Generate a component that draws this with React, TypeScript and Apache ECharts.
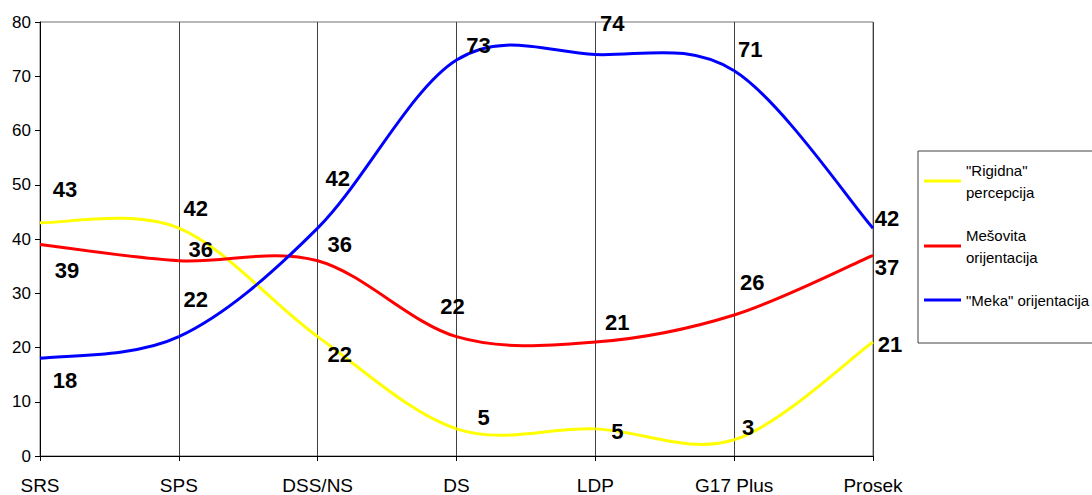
import React, { useEffect, useRef } from 'react';
import * as echarts from 'echarts';

const categories = ['SRS', 'SPS', 'DSS/NS', 'DS', 'LDP', 'G17 Plus', 'Prosek'];
const rigidna = [43, 42, 22, 5, 5, 3, 21];
const mesovita = [39, 36, 36, 22, 21, 26, 37];
const meka = [18, 22, 42, 73, 74, 71, 42];
const seriesNames = ['"Rigidna"\npercepcija', 'Mešovita\norijentacija', '"Meka" orijentacija'];
const seriesColors = ['#FFFF00', '#FF0000', '#0000FF'];

// label offsets (px) relative to each data point
const rigidnaLabelOffsets = [[25, -33], [17, -20], [22, 18], [27, -11], [22, 3], [14, -12], [17, 2]];
const mesovitaLabelOffsets = [[27, 26], [22, -11], [22, -16], [-4, -30], [22, -20], [18, -32], [14, 12]];
const mekaLabelOffsets = [[25, 22], [17, -37], [20, -50], [22, -14], [17, -31], [16, -21], [14, -10]];

const FONT = '"Liberation Sans", Arial, sans-serif';

function makeRenderItem(values: number[], color: string, offsets: number[][]) {
  return (params: any, api: any) => {
    const i = params.dataIndex;
    const n = values.length;
    const pt = (k: number) => {
      const c = Math.max(0, Math.min(n - 1, k));
      return api.coord([c, values[c]]);
    };
    const children: any[] = [];
    if (i < n - 1) {
      const p0 = pt(i - 1);
      const p1 = pt(i);
      const p2 = pt(i + 1);
      const p3 = pt(i + 2);
      const t = 1 / 6;
      children.push({
        type: 'bezierCurve',
        shape: {
          x1: p1[0], y1: p1[1],
          x2: p2[0], y2: p2[1],
          cpx1: p1[0] + (p2[0] - p0[0]) * t,
          cpy1: p1[1] + (p2[1] - p0[1]) * t,
          cpx2: p2[0] - (p3[0] - p1[0]) * t,
          cpy2: p2[1] - (p3[1] - p1[1]) * t,
        },
        style: { stroke: color, lineWidth: 3, fill: null },
        z2: 1,
      });
    }
    const p = pt(i);
    const off = offsets[i];
    children.push({
      type: 'text',
      x: p[0] + off[0],
      y: p[1] + off[1],
      style: {
        text: String(values[i]),
        fill: '#000',
        fontSize: 22,
        fontWeight: 'bold',
        fontFamily: FONT,
        align: 'center',
        verticalAlign: 'middle',
      },
      z2: 10,
    });
    return { type: 'group', children };
  };
}

export default function App() {
  const ref = useRef<HTMLDivElement>(null);
  useEffect(() => {
    if (!ref.current) return;
    const chart = echarts.init(ref.current, null, { renderer: 'svg' });
    const all = [rigidna, mesovita, meka];
    const offs = [rigidnaLabelOffsets, mesovitaLabelOffsets, mekaLabelOffsets];
    chart.setOption({
      animation: false,
      backgroundColor: '#fff',
      textStyle: { fontFamily: FONT },
      grid: {
        left: 40, right: 219, top: 22, bottom: 39,
        show: true, borderColor: '#707070', borderWidth: 1,
      },
      legend: {
        orient: 'vertical',
        left: 918,
        top: 151,
        padding: [8, 6, 32, 6],
        itemGap: 21,
        itemWidth: 37,
        itemHeight: 3,
        icon: 'rect',
        borderColor: '#404040',
        borderWidth: 1,
        backgroundColor: '#fff',
        textStyle: { fontSize: 15, lineHeight: 22, color: '#000', fontFamily: FONT },
        data: seriesNames,
      },
      xAxis: {
        type: 'category',
        data: categories,
        boundaryGap: false,
        axisLine: { lineStyle: { color: '#000', width: 1 } },
        axisTick: { show: true, length: 5, lineStyle: { color: '#000' } },
        axisLabel: { color: '#000', fontSize: 19, margin: 20, fontFamily: FONT },
        splitLine: { show: true, lineStyle: { color: '#404040', width: 1 } },
      },
      yAxis: {
        type: 'value',
        min: 0,
        max: 80,
        interval: 10,
        axisLine: { show: true, lineStyle: { color: '#000', width: 1 } },
        axisTick: { show: true, length: 5, lineStyle: { color: '#000' } },
        axisLabel: { color: '#000', fontSize: 17, margin: 9, fontFamily: FONT },
        splitLine: { show: false },
      },
      series: all.map((vals, s) => ({
        type: 'custom',
        name: seriesNames[s],
        coordinateSystem: 'cartesian2d',
        itemStyle: { color: seriesColors[s] },
        encode: { x: 0, y: 1 },
        data: vals.map((v, i) => [i, v]),
        renderItem: makeRenderItem(vals, seriesColors[s], offs[s]),
        clip: false,
        z: 3,
      })),
    });
    return () => chart.dispose();
  }, []);
  return (
    <div
      ref={ref}
      style={{ position: 'fixed', left: 0, top: 0, width: 1092, height: 495 }}
    />
  );
}
